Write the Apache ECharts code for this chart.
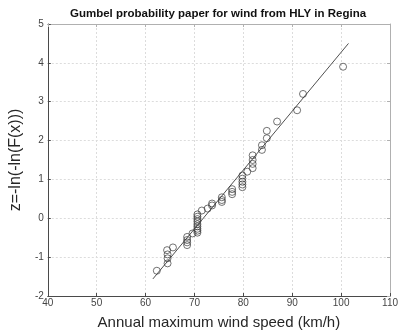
<!DOCTYPE html>
<html>
<head>
<meta charset="utf-8">
<script src="https://cdn.jsdelivr.net/npm/echarts@6/dist/echarts.min.js"></script>
<style>
  html, body { margin: 0; padding: 0; background: #fff; }
  #chart { width: 401px; height: 335px; }
</style>
</head>
<body>
<div id="chart"></div>
<script>
// Annual maximum wind speeds (km/h) and their Gumbel reduced variates
const windSpeed = [
  62.3,
  64.4, 64.5, 64.5, 64.5,
  65.6,
  68.5, 68.5, 68.5, 68.5,
  69.6,
  70.6, 70.6, 70.6, 70.6, 70.6, 70.6, 70.6, 70.6, 70.6,
  71.5,
  72.7,
  73.6, 73.6,
  75.6, 75.6, 75.6,
  77.7, 77.7, 77.7,
  79.8, 79.8, 79.8, 79.8, 79.8,
  80.8,
  81.9, 81.9, 81.9, 81.9,
  83.8, 83.8,
  84.8, 84.8,
  86.9,
  91.0,
  92.2,
  100.4
];
const reducedVariate = [
  -1.35,
  -0.82, -0.93, -1.03, -1.16,
  -0.75,
  -0.48, -0.56, -0.62, -0.69,
  -0.39,
  0.10, 0.04, -0.02, -0.08, -0.15, -0.21, -0.27, -0.32, -0.37,
  0.20,
  0.25,
  0.38, 0.33,
  0.54, 0.47, 0.42,
  0.75, 0.68, 0.62,
  1.10, 1.02, 0.94, 0.87, 0.80,
  1.20,
  1.62, 1.50, 1.40, 1.29,
  1.88, 1.76,
  2.25, 2.06,
  2.49,
  2.78,
  3.20,
  3.90
];
// Fitted Gumbel line end points
const fitX = [61.5, 101.5];
const fitY = [-1.56, 4.50];

const xTicks = { min: 40, max: 110, step: 10 };
const yTicks = { min: -2, max: 5, step: 1 };

const titleText = 'Gumbel probability paper for wind from HLY in Regina';
const xName = 'Annual maximum wind speed (km/h)';
const yName = 'z=-ln(-ln(F(x)))';

const points = windSpeed.map((v, i) => [v, reducedVariate[i]]);
const fitLine = fitX.map((v, i) => [v, fitY[i]]);

const FONT = 'Liberation Sans, Arial, Helvetica, sans-serif';
const AXIS_COLOR = '#4a4a4a';
const LABEL_COLOR = '#444444';
const GRID_COLOR = '#dcdcdc';
const BOX_COLOR = '#b0b0b0';

const chart = echarts.init(document.getElementById('chart'), null, { renderer: 'canvas' });

const mainX = {
  type: 'value', position: 'bottom',
  min: xTicks.min, max: xTicks.max, interval: xTicks.step,
  name: xName, nameLocation: 'middle', nameGap: 19,
  nameTextStyle: { fontFamily: FONT, fontSize: 15, color: '#262626' },
  axisLine: { show: true, onZero: false, lineStyle: { color: AXIS_COLOR, width: 1 } },
  axisTick: { show: true, inside: true, length: 3, lineStyle: { color: AXIS_COLOR } },
  axisLabel: { fontFamily: FONT, fontSize: 10, color: LABEL_COLOR, margin: 2 },
  splitLine: { show: true, lineStyle: { color: GRID_COLOR, type: [2, 2], width: 1 } }
};
const mirrorX = {
  type: 'value', position: 'top',
  min: xTicks.min, max: xTicks.max, interval: xTicks.step,
  axisLine: { show: true, onZero: false, lineStyle: { color: BOX_COLOR, width: 1 } },
  axisTick: { show: true, inside: true, length: 3, lineStyle: { color: BOX_COLOR } },
  axisLabel: { show: false },
  splitLine: { show: false }
};
const mainY = {
  type: 'value', position: 'left',
  min: yTicks.min, max: yTicks.max, interval: yTicks.step,
  name: yName, nameLocation: 'middle', nameGap: 15, nameRotate: 90,
  nameTextStyle: { fontFamily: FONT, fontSize: 16, color: '#262626' },
  axisLine: { show: true, onZero: false, lineStyle: { color: AXIS_COLOR, width: 1 } },
  axisTick: { show: true, inside: true, length: 3, lineStyle: { color: AXIS_COLOR } },
  axisLabel: { fontFamily: FONT, fontSize: 10, color: LABEL_COLOR, margin: 4 },
  splitLine: { show: true, lineStyle: { color: GRID_COLOR, type: [2, 2], width: 1 } }
};
const mirrorY = {
  type: 'value', position: 'right',
  min: yTicks.min, max: yTicks.max, interval: yTicks.step,
  axisLine: { show: true, onZero: false, lineStyle: { color: BOX_COLOR, width: 1 } },
  axisTick: { show: true, inside: true, length: 3, lineStyle: { color: BOX_COLOR } },
  axisLabel: { show: false },
  splitLine: { show: false }
};

chart.setOption({
  animation: false,
  backgroundColor: '#ffffff',
  grid: { left: 47, right: 9, top: 24, bottom: 39, containLabel: false },
  graphic: [{
    type: 'text',
    left: 70, top: 8,
    style: {
      text: titleText,
      font: 'bold 11.5px ' + FONT,
      fill: '#111111'
    }
  }],
  xAxis: [mainX, mirrorX],
  yAxis: [mainY, mirrorY],
  series: [
    {
      type: 'scatter',
      xAxisIndex: 0, yAxisIndex: 0,
      data: points,
      symbol: 'circle',
      symbolSize: 7,
      itemStyle: { color: 'rgba(255,255,255,0)', borderColor: '#3c3c3c', borderWidth: 0.9 },
      z: 3
    },
    {
      type: 'line',
      xAxisIndex: 0, yAxisIndex: 0,
      data: fitLine,
      symbol: 'none',
      lineStyle: { color: '#505050', width: 1 },
      z: 2
    }
  ]
});
</script>
</body>
</html>
